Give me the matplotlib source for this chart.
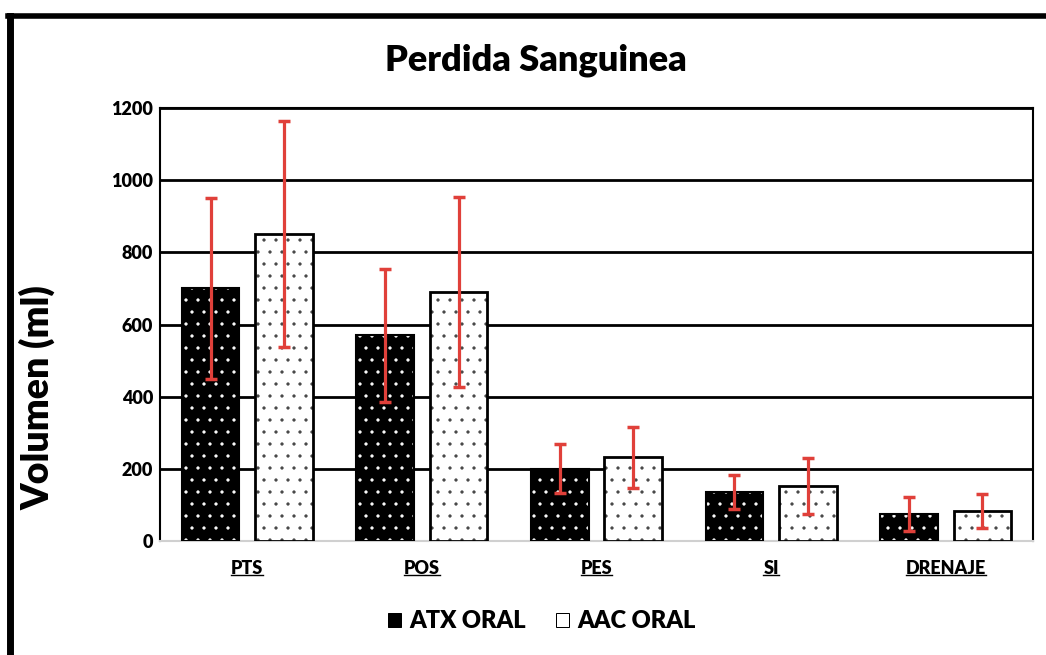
import matplotlib
matplotlib.use("Agg")
import matplotlib.pyplot as plt
from matplotlib.lines import Line2D
from matplotlib.patches import Patch
import numpy as np

plt.rcParams['font.family'] = ['Lato', 'DejaVu Sans']
plt.rcParams['hatch.linewidth'] = 0.8

# datos
categorias = ["PTS", "POS", "PES", "SI", "DRENAJE"]
atx = [700, 570, 200, 135, 75]
atx_err = [250, 185, 68, 47, 47]
aac = [850, 690, 232, 152, 83]
aac_err = [313, 263, 85, 78, 47]
series = ["ATX ORAL", "AAC ORAL"]

rojo = "#e0403a"

# se trabaja a 72 dpi para que el punteado tenga la densidad del original
DPI = 72
k = 100 / DPI
fig = plt.figure(figsize=(1046/DPI, 655/DPI), dpi=DPI)
ax = fig.add_axes([160/1046, 1 - 541/655, (1033-160)/1046, (541-108)/655])

x = np.arange(len(categorias))
ancho = 0.33
desp = 0.21

# barras ATX: negras con puntos blancos
ax.bar(x - desp, atx, ancho, color="black", edgecolor="white", hatch=".", linewidth=0, zorder=3)
ax.bar(x - desp, atx, ancho, color="none", edgecolor="black", linewidth=1.5*k, zorder=4)
# barras AAC: blancas con puntos negros
ax.bar(x + desp, aac, ancho, color="white", edgecolor="#444444", hatch=".", linewidth=0, zorder=3)
ax.bar(x + desp, aac, ancho, color="none", edgecolor="black", linewidth=2*k, zorder=4)

ax.errorbar(x - desp, atx, yerr=atx_err, fmt="none", ecolor=rojo, elinewidth=2.3*k, capsize=4.5*k,
            capthick=2.5*k, zorder=5)
ax.errorbar(x + desp, aac, yerr=aac_err, fmt="none", ecolor=rojo, elinewidth=2.3*k, capsize=4.5*k,
            capthick=2.5*k, zorder=5)

ax.set_xlim(-0.5, len(categorias) - 0.5)
ax.set_ylim(0, 1200)
ax.set_yticks(range(0, 1201, 200))
ax.set_yticklabels([str(v) for v in range(0, 1201, 200)], fontsize=13*k, fontweight="heavy")
ax.yaxis.grid(True, color="black", linewidth=2*k, zorder=0)
ax.set_axisbelow(True)
ax.tick_params(axis="both", length=0)
ax.tick_params(axis="y", pad=5*k)
ax.tick_params(axis="x", pad=14*k)

ax.set_xticks(x)
ax.set_xticklabels(categorias, fontsize=13*k, fontweight="heavy")

for lado in ["left", "top", "right"]:
    ax.spines[lado].set_color("black")
    ax.spines[lado].set_linewidth(1.5*k)
ax.spines["bottom"].set_color("#d0d0d0")
ax.spines["bottom"].set_linewidth(1.5*k)

fig.text(37/1046, 1 - 398/655, "Volumen (ml)", rotation=90, ha="center", va="center",
         fontsize=27*k, fontweight="heavy")
fig.text(536/1046, 1 - 60/655, "Perdida Sanguinea", ha="center", va="center", fontsize=26*k, fontweight="heavy")

handles = [Patch(facecolor="black", edgecolor="black", label=series[0]),
           Patch(facecolor="white", edgecolor="black", label=series[1])]
fig.legend(handles=handles, loc="center", bbox_to_anchor=(542/1046, 1 - 621/655), ncol=2, frameon=False,
           prop={"weight": "heavy", "size": 17*k}, handlelength=0.55, handleheight=0.55, handletextpad=0.35,
           columnspacing=1.3)

# subrayado de las etiquetas del eje x
fig.canvas.draw()
rend = fig.canvas.get_renderer()
inv = fig.transFigure.inverted()
for lab in ax.get_xticklabels():
    bb = lab.get_window_extent(rend)
    (x0, y0), (x1, y1) = inv.transform([[bb.x0, bb.y0 + 2], [bb.x1, bb.y0 + 2]])
    fig.add_artist(Line2D([x0, x1], [y0, y1], color="black", linewidth=1*k, transform=fig.transFigure))

# marco exterior negro
fig.add_artist(Line2D([10/1046, 10/1046], [0, 1 - 16/655], color="black", linewidth=5*k,
                      transform=fig.transFigure))
fig.add_artist(Line2D([8/1046, 1], [1 - 16/655, 1 - 16/655], color="black", linewidth=4*k,
                      transform=fig.transFigure))

fig.savefig("out.png", dpi=DPI)
